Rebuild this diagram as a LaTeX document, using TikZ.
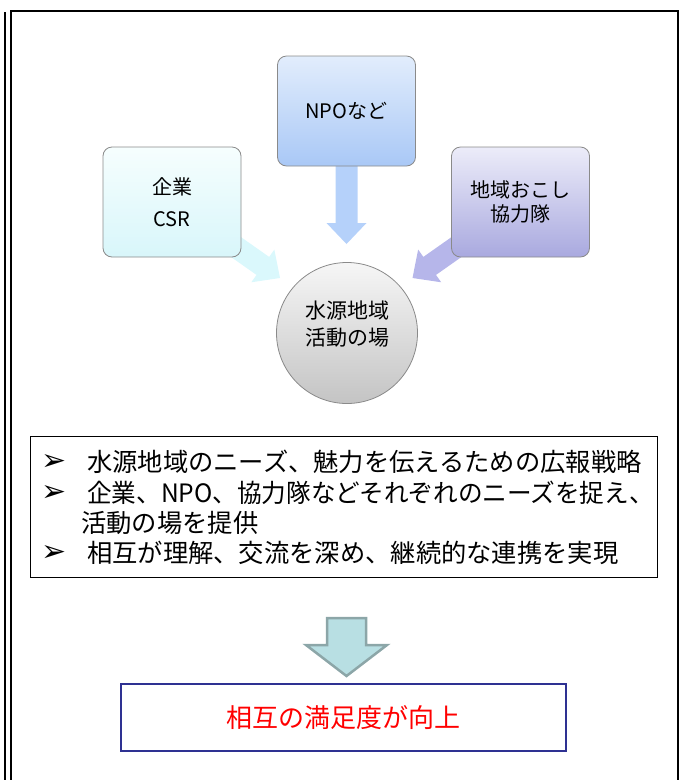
\documentclass[tikz,border=0pt]{standalone}
\usepackage{fontspec}
\setmainfont{Noto Sans CJK JP}
\newfontfamily\dvfont{DejaVu Sans}
\usetikzlibrary{calc,backgrounds}
\definecolor{csrT}{HTML}{F6FEFE}
\definecolor{csrB}{HTML}{D8F6FA}
\definecolor{npoT}{HTML}{E2EDFC}
\definecolor{npoB}{HTML}{A9C8F6}
\definecolor{kyoT}{HTML}{ECECF9}
\definecolor{kyoB}{HTML}{A9A9DF}
\definecolor{csrA}{HTML}{DAF8FC}
\definecolor{npoA}{HTML}{B5D1FA}
\definecolor{kyoA}{HTML}{B6B6EA}
\definecolor{boxline}{HTML}{8A8A8A}
\definecolor{hubT}{HTML}{F6F6F6}
\definecolor{hubB}{HTML}{C4C4C4}
\definecolor{downF}{HTML}{B8DFE3}
\definecolor{downL}{HTML}{8CA6A8}
\definecolor{navy}{HTML}{2E3192}
\tikzset{
  rbox/.style={draw=boxline, line width=0.8pt, rounded corners=9pt, minimum width=138pt, minimum height=110pt, align=center, inner sep=0pt},
  listtxt/.style={anchor=base west, inner sep=0pt, font=\fontsize{25.3}{25.3}\selectfont},
  bul/.style={inner sep=0pt, font=\dvfont\fontsize{30}{30}\selectfont},
  frame/.style={line width=2pt, black}
}
\newcommand{\fatarrow}[3]{%
  \coordinate (fab) at ($(#2)!21pt!(#1)$);
  \fill[#3] ($(#1)!11pt!90:(#2)$) -- ($(fab)!11pt!-90:(#1)$) -- ($(fab)!20pt!-90:(#1)$) -- (#2)
    -- ($(fab)!20pt!90:(#1)$) -- ($(fab)!11pt!90:(#1)$) -- ($(#1)!11pt!-90:(#2)$) -- cycle;}
\begin{document}
\begin{tikzpicture}[x=1pt,y=-1pt]
\useasboundingbox (0,0) rectangle (683,780);
% outer frame
\draw[frame] (5,12) -- (5,781);
\draw[frame] (11,781) -- (11,11) -- (678,11) -- (678,781);
% boxes
\node[rbox, top color=npoT, bottom color=npoB, font=\fontsize{20}{30}\selectfont] (npo) at (346.5,111) {NPOなど};
\node[rbox, top color=csrT, bottom color=csrB, font=\fontsize{20}{32}\selectfont] (csr) at (172,202) {企業\\CSR};
\node[rbox, top color=kyoT, bottom color=kyoB, font=\fontsize{20}{24}\selectfont] (kyo) at (520.5,202) {地域おこし\\協力隊};
\node[circle, draw=boxline, line width=0.8pt, top color=hubT, bottom color=hubB, minimum size=141pt, inner sep=0pt] (hub) at (347,333) {};
\node[align=center, inner sep=0pt, font=\fontsize{21}{27}\selectfont] (hubtxt) at (347,324) {水源地域\\活動の場};
% arrow tips
\coordinate (tcsr) at (280,278);
\coordinate (tnpo) at (346.5,244);
\coordinate (tkyo) at (412.5,278);
\begin{pgfonlayer}{background}
\fatarrow{csr.center}{tcsr}{csrA}
\fatarrow{npo.center}{tnpo}{npoA}
\fatarrow{kyo.center}{tkyo}{kyoA}
\end{pgfonlayer}
% list box
\node[draw=black, line width=1pt, minimum width=627pt, minimum height=141pt, inner sep=0pt] (list) at (343.5,507) {};
\node[bul] (b1) at (54.5,462) {➢};
\node[bul] (b2) at (54.5,493) {➢};
\node[bul] (b4) at (54.5,553) {➢};
\node[listtxt] (l1) at (87,471) {水源地域のニーズ、魅力を伝えるための広報戦略};
\node[listtxt] (l2) at (87,502) {\scalebox{0.973}[1]{企業、NPO、協力隊などそれぞれのニーズを捉え、}};
\node[listtxt] (l3) at (81,532) {活動の場を提供};
\node[listtxt] (l4) at (87,562) {相互が理解、交流を深め、継続的な連携を実現};
% down arrow
\filldraw[fill=downF, draw=downL, line width=2.5pt, line join=miter]
  (327,618) -- (366,618) -- (366,645) -- (387,645) -- (346.5,676) -- (306,645) -- (327,645) -- cycle;
% result box
\node[draw=navy, line width=2.2pt, minimum width=445pt, minimum height=67pt, inner sep=0pt, text=red, font=\fontsize{26}{26}\selectfont] (res) at (343.5,717.5) {相互の満足度が向上};
\end{tikzpicture}
\end{document}
